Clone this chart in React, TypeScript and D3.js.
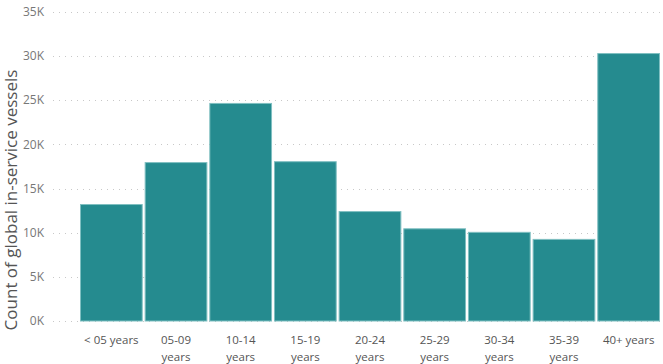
import React, { useEffect } from 'react';
import * as d3 from 'd3';

const categories = ['< 05 years', '05-09 years', '10-14 years', '15-19 years', '20-24 years', '25-29 years', '30-34 years', '35-39 years', '40+ years'];
const counts = [13250, 18000, 24700, 18100, 12450, 10500, 10100, 9300, 30350];
const yTicks = [0, 5000, 10000, 15000, 20000, 25000, 30000, 35000];

const width = 663;
const height = 364;
const margin = { top: 12, right: 3, bottom: 43, left: 80 };

// labels like "05-09 years" wrap onto two lines, "< 05 years" and "40+ years" fit on one
const splitLabel = (label: string) => {
  if (label.startsWith('<') || label.includes('+')) return [label];
  const parts = label.split(' ');
  return [parts[0], parts.slice(1).join(' ')];
};

export default function App() {
  useEffect(() => {
    document.body.style.margin = '0';
  }, []);

  const x = d3.scaleBand()
    .domain(categories)
    .range([margin.left, width - margin.right])
    .paddingInner(0.03)
    .paddingOuter(0);

  const y = d3.scaleLinear()
    .domain([0, 35000])
    .range([height - margin.bottom, margin.top]);

  const font = "'Segoe UI', 'Open Sans', 'Noto Sans', sans-serif";

  return (
    <svg width={width} height={height} style={{ display: 'block', background: '#fff' }} fontFamily={font}>
      {/* gridlines + y tick labels */}
      {yTicks.map(t => (
        <g key={t}>
          <line
            x1={53}
            x2={width - 2}
            y1={Math.round(y(t)) + 0.5}
            y2={Math.round(y(t)) + 0.5}
            stroke="#c8c8c8"
            strokeWidth={1}
            strokeDasharray="1 5"
          />
          <text x={44} y={y(t)} dy="0.35em" textAnchor="end" fontSize={12} fill="#777">
            {t / 1000}K
          </text>
        </g>
      ))}

      {/* bars */}
      {categories.map((c, i) => (
        <rect
          key={c}
          x={(x(c) ?? 0) + 0.5}
          y={y(counts[i]) + 0.5}
          width={x.bandwidth() - 1}
          height={y(0) - y(counts[i]) - 0.5}
          fill="#258b8f"
          stroke="#7fbfc1"
          strokeWidth={1}
        />
      ))}

      {/* x labels */}
      {categories.map(c => {
        const lines = splitLabel(c);
        const cx = (x(c) ?? 0) + x.bandwidth() / 2;
        return (
          <text key={c} x={cx} y={344} textAnchor="middle" fontSize={11.5} fill="#555">
            {lines.map((l, j) => (
              <tspan key={j} x={cx} dy={j === 0 ? 0 : 16.5}>{l}</tspan>
            ))}
          </text>
        );
      })}

      {/* y axis title */}
      <text
        transform="translate(17, 200) rotate(-90)"
        textAnchor="middle"
        fontSize={17}
        fill="#555"
      >
        Count of global in-service vessels
      </text>
    </svg>
  );
}
